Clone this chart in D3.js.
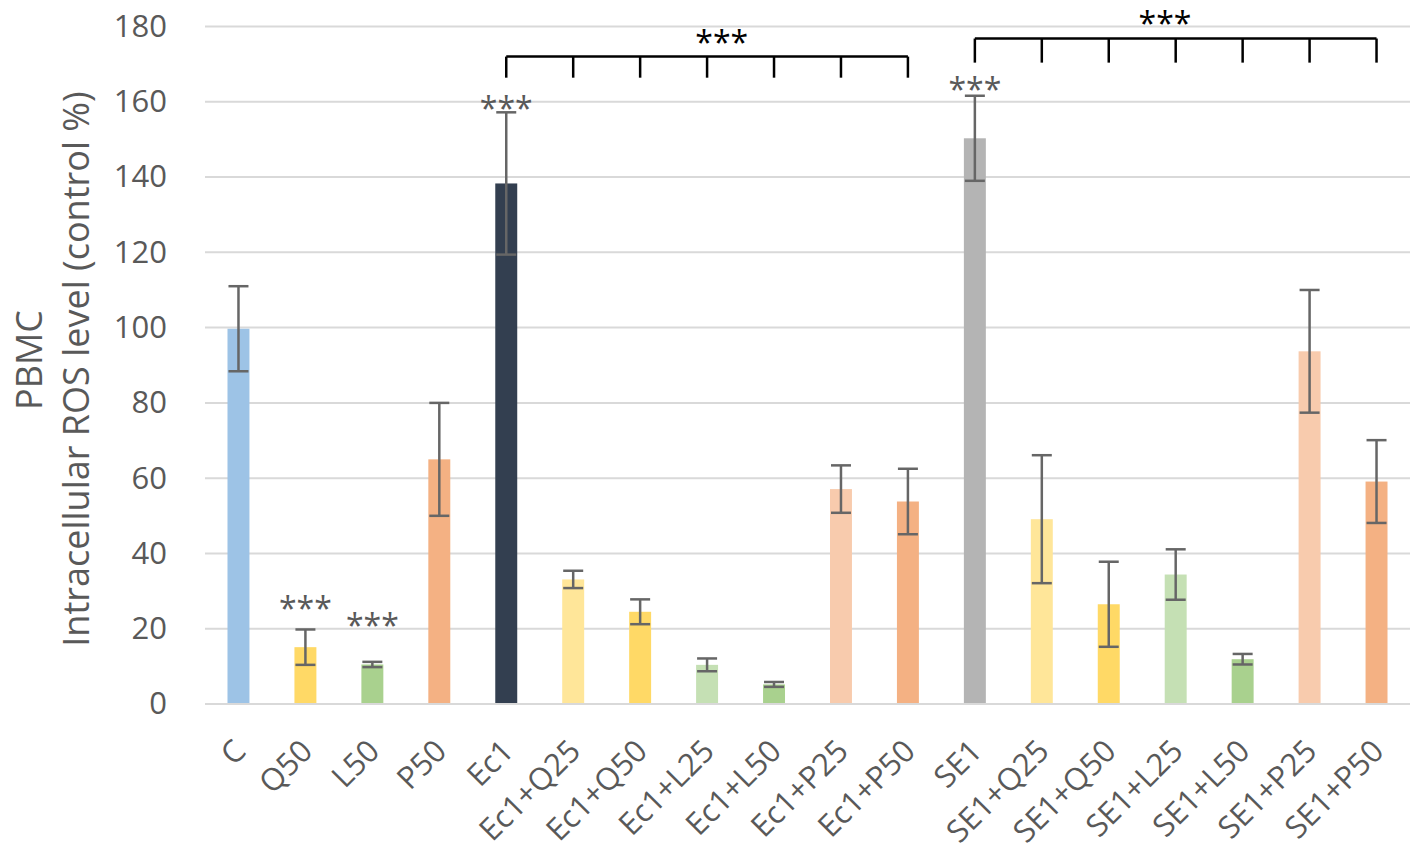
<!DOCTYPE html>
<html>
<head>
<meta charset="utf-8">
<script src="https://cdn.jsdelivr.net/npm/d3@7"></script>
<style>
  body { margin: 0; background: #fff; }
  svg { display: block; }
  text { font-family: "Open Sans", sans-serif; }
</style>
</head>
<body>
<svg id="chart"></svg>
<script>
const width = 1417;
const height = 855;
const margin = { top: 26.5, right: 7, bottom: 151, left: 205 };

// data
const categories = ["C", "Q50", "L50", "P50", "Ec1", "Ec1+Q25", "Ec1+Q50", "Ec1+L25", "Ec1+L50",
    "Ec1+P25", "Ec1+P50", "SE1", "SE1+Q25", "SE1+Q50", "SE1+L25", "SE1+L50", "SE1+P25", "SE1+P50"];
const values = [99.7, 15.1, 10.5, 65.0, 138.3, 33.1, 24.5, 10.4, 5.2, 57.1, 53.8,
    150.3, 49.1, 26.5, 34.4, 11.9, 93.7, 59.1];
const errors = [11.3, 4.7, 0.7, 15.0, 18.9, 2.3, 3.3, 1.7, 0.65, 6.3, 8.7,
    11.3, 17.0, 11.3, 6.7, 1.4, 16.3, 11.0];
const barColors = ["#9dc3e6", "#ffd966", "#a9d18e", "#f4b183", "#333f50", "#ffe699", "#ffd966",
    "#c5e0b4", "#a9d18e", "#f8cbad", "#f4b183", "#b4b4b4", "#ffe699", "#ffd966", "#c5e0b4",
    "#a9d18e", "#f8cbad", "#f4b183"];
const yTicks = [0, 20, 40, 60, 80, 100, 120, 140, 160, 180];

// significance marks over single bars (y = centre of the label, data units)
const sigCats = ["Q50", "L50", "Ec1", "SE1"];
const sigY = [27.3, 22.8, 160.0, 165.2];

// brackets: first/last category, line level, tick end, label position (category index, value)
const brackets = [
    { from: "Ec1", to: "Ec1+P50", y: 172.0, tickEnd: 166.4, labelAt: 7.22, labelY: 177.6 },
    { from: "SE1", to: "SE1+P50", y: 176.8, tickEnd: 170.4, labelAt: 13.84, labelY: 182.7 }
];

const textColor = "#595959";
const gridColor = "#d9d9d9";
const errColor = "#666666";

const svg = d3.select("#chart")
    .attr("width", width)
    .attr("height", height);

const xScale = d3.scaleBand()
    .domain(categories)
    .range([margin.left, width - margin.right])
    .paddingInner(0.672)
    .paddingOuter(0.336);

const yScale = d3.scaleLinear()
    .domain([0, 180])
    .range([height - margin.bottom, margin.top]);

const cx = c => xScale(c) + xScale.bandwidth() / 2;

// gridlines
svg.append("g")
    .selectAll("line")
    .data(yTicks)
    .join("line")
    .attr("x1", margin.left)
    .attr("x2", width - margin.right)
    .attr("y1", d => yScale(d))
    .attr("y2", d => yScale(d))
    .attr("stroke", gridColor)
    .attr("stroke-width", 2);

// y axis labels
const yAxis = svg.append("g")
    .attr("transform", `translate(${margin.left - 38},0)`)
    .call(d3.axisLeft(yScale).tickValues(yTicks).tickSize(0).tickPadding(0));
yAxis.select(".domain").remove();
yAxis.selectAll("text")
    .attr("fill", textColor)
    .style("font-size", "31px")
    .style("font-family", "'Open Sans', sans-serif");

// bars
svg.append("g")
    .selectAll("rect")
    .data(categories)
    .join("rect")
    .attr("x", d => xScale(d))
    .attr("width", xScale.bandwidth())
    .attr("y", (d, i) => yScale(values[i]))
    .attr("height", (d, i) => yScale(0) - yScale(values[i]))
    .attr("fill", (d, i) => barColors[i]);

// error bars
const eb = svg.append("g")
    .attr("stroke", errColor)
    .attr("stroke-width", 2.5);
categories.forEach((c, i) => {
    const x = cx(c);
    const hi = yScale(values[i] + errors[i]);
    const lo = yScale(values[i] - errors[i]);
    eb.append("line").attr("x1", x).attr("x2", x).attr("y1", hi).attr("y2", lo);
    eb.append("line").attr("x1", x - 10).attr("x2", x + 10).attr("y1", hi).attr("y2", hi);
    eb.append("line").attr("x1", x - 10).attr("x2", x + 10).attr("y1", lo).attr("y2", lo);
});

// x axis baseline
svg.append("line")
    .attr("x1", margin.left)
    .attr("x2", width - margin.right)
    .attr("y1", yScale(0))
    .attr("y2", yScale(0))
    .attr("stroke", gridColor)
    .attr("stroke-width", 2);

// x labels, rotated
svg.append("g")
    .selectAll("text")
    .data(categories)
    .join("text")
    .attr("transform", d => `translate(${cx(d) + 9},${yScale(0) + 49}) rotate(-45)`)
    .attr("text-anchor", "end")
    .attr("fill", textColor)
    .style("font-size", "31px")
    .text(d => d);

// y axis title (two lines)
svg.append("text")
    .attr("transform", `translate(42,360) rotate(-90)`)
    .attr("text-anchor", "middle")
    .attr("fill", textColor)
    .style("font-size", "36px")
    .text("PBMC");
svg.append("text")
    .attr("transform", `translate(89,369) rotate(-90)`)
    .attr("text-anchor", "middle")
    .attr("fill", textColor)
    .style("font-size", "36px")
    .text("Intracellular ROS level (control %)");

// stars over single bars
const starSize = 32;
svg.append("g")
    .selectAll("text")
    .data(sigCats)
    .join("text")
    .attr("x", d => cx(d))
    .attr("y", (d, i) => yScale(sigY[i]) + starSize * 0.58)
    .attr("text-anchor", "middle")
    .attr("fill", textColor)
    .style("font-size", starSize + "px")
    .text("***");

// brackets
const step = xScale.step();
brackets.forEach(b => {
    const i0 = categories.indexOf(b.from);
    const i1 = categories.indexOf(b.to);
    const g = svg.append("g").attr("stroke", "#000").attr("stroke-width", 2.5);
    g.append("line")
        .attr("x1", cx(b.from)).attr("x2", cx(b.to))
        .attr("y1", yScale(b.y)).attr("y2", yScale(b.y));
    categories.slice(i0, i1 + 1).forEach(c => {
        g.append("line")
            .attr("x1", cx(c)).attr("x2", cx(c))
            .attr("y1", yScale(b.y)).attr("y2", yScale(b.tickEnd));
    });
    svg.append("text")
        .attr("x", cx(categories[0]) + b.labelAt * step)
        .attr("y", yScale(b.labelY) + starSize * 0.58)
        .attr("text-anchor", "middle")
        .attr("fill", "#000")
        .style("font-size", starSize + "px")
        .text("***");
});
</script>
</body>
</html>
